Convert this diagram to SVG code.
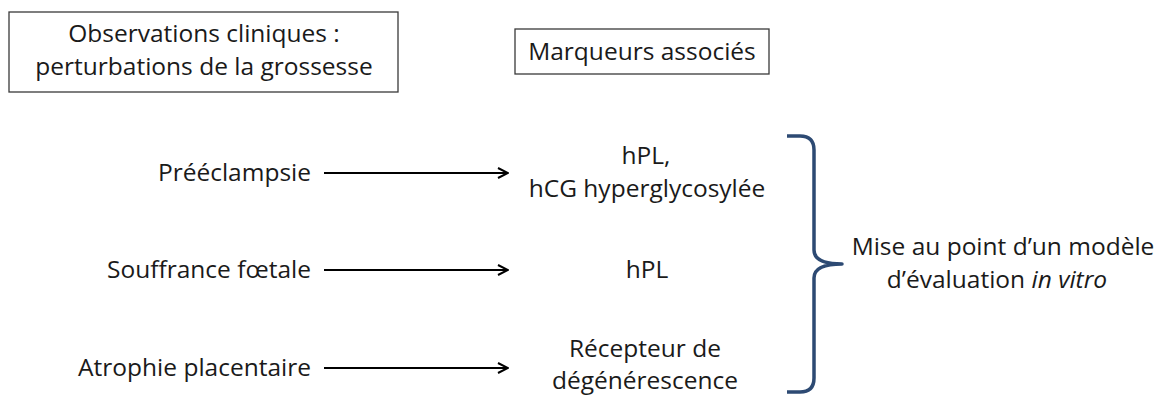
<svg xmlns="http://www.w3.org/2000/svg" width="1162" height="396" viewBox="0 0 1162 396">
  <defs>
    <style>
      text { font-family: "Open Sans", "Liberation Sans", sans-serif; font-size: 24.5px; fill: #1a1a1a; }
      .mid { text-anchor: middle; }
      .end { text-anchor: end; }
      .box { fill: #ffffff; stroke: #3a3a3a; stroke-width: 1.3; }
      .arrow { stroke: #000000; stroke-width: 2; fill: none; marker-end: url(#head); }
      .brace { stroke: #2d4a73; stroke-width: 3.5; fill: none; stroke-linejoin: round; }
    </style>
    <marker id="head" viewBox="0 0 12 12" refX="11" refY="6" markerWidth="12" markerHeight="12" markerUnits="userSpaceOnUse" orient="auto">
      <path d="M1,1 L11,6 L1,11" fill="none" stroke="#000000" stroke-width="2"/>
    </marker>
  </defs>
  <rect width="1162" height="396" fill="#ffffff"/>

  <g id="observations">
    <rect class="box" x="9" y="12" width="389" height="80"/>
    <text class="mid" x="204" y="42">Observations cliniques :</text>
    <text class="mid" x="204" y="75">perturbations de la grossesse</text>
  </g>

  <g id="marqueurs">
    <rect class="box" x="515" y="29" width="254" height="45"/>
    <text class="mid" x="642" y="60">Marqueurs associés</text>
  </g>

  <g id="preeclampsie">
    <text class="end" x="311" y="181">Prééclampsie</text>
  </g>
  <g id="souffrance">
    <text class="end" x="311" y="278">Souffrance fœtale</text>
  </g>
  <g id="atrophie">
    <text class="end" x="311" y="376">Atrophie placentaire</text>
  </g>

  <g id="marqueur-hpl-hcg">
    <text class="mid" x="646" y="164">hPL,</text>
    <text class="mid" x="647" y="197">hCG hyperglycosylée</text>
  </g>
  <g id="marqueur-hpl">
    <text class="mid" x="647" y="278">hPL</text>
  </g>
  <g id="marqueur-recepteur">
    <text class="mid" x="645" y="357">Récepteur de</text>
    <text class="mid" x="645" y="389">dégénérescence</text>
  </g>

  <g id="modele">
    <path class="brace" d="M787,136 L800,136 Q814,136 814,150 L814,250 Q814,264 842,264 Q814,264 814,278 L814,378 Q814,392 800,392 L787,392"/>
    <text class="mid" x="1003" y="255">Mise au point d’un modèle</text>
    <text class="mid" x="997" y="288">d’évaluation <tspan font-style="italic">in vitro</tspan></text>
  </g>

  <g id="connectors">
    <line class="arrow" x1="324" y1="173" x2="508" y2="173"/>
    <line class="arrow" x1="324" y1="270" x2="508" y2="270"/>
    <line class="arrow" x1="324" y1="368" x2="508" y2="368"/>
  </g>
</svg>
